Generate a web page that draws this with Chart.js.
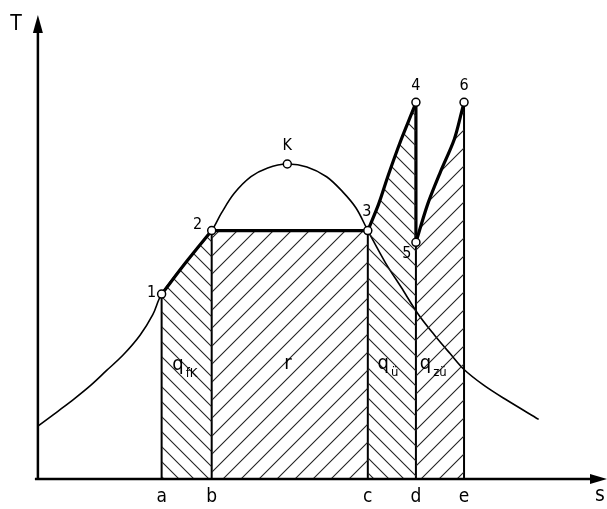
<!DOCTYPE html>
<html>
<head>
<meta charset="utf-8">
<script src="https://cdn.jsdelivr.net/npm/chart.js@4.4.1/dist/chart.umd.min.js"></script>
<style>
  html, body { margin: 0; padding: 0; background: #fff; }
  canvas { display: block; }
</style>
</head>
<body>
<canvas id="myChart" width="607" height="509"></canvas>
<script>
// saturation curve (boiling line - critical point - dew line)
var satS = [0, 2.0, 3.7, 5.4, 7.0, 8.7, 10.4, 11.7, 12.6, 15.2, 17.7, 18.7, 20.0, 21.7, 23.4, 25.4, 27.4, 29.4, 31.0, 32.4, 33.6, 35.4, 37.0, 38.7, 40.4, 42.0, 43.4, 45.4, 47.7, 51.0];
var satT = [5.4, 6.9, 8.2, 9.6, 11.1, 12.7, 14.7, 16.8, 18.9, 22.3, 25.4, 27.2, 29.2, 30.9, 31.8, 32.2, 31.9, 30.9, 29.4, 27.7, 25.4, 22.1, 19.6, 16.9, 14.7, 12.8, 11.2, 9.6, 8.1, 6.1];

// process 1-2 (liquid heating)
var heatS = [12.6, 15.2, 17.7];
var heatT = [18.9, 22.3, 25.4];
// process 2-3 (evaporation)
var evapS = [17.7, 33.6];
var evapT = [25.4, 25.4];
// process 3-4 (superheating)
var superS = [33.6, 34.7, 35.7, 37.0, 38.2, 38.5];
var superT = [25.4, 28.1, 31.1, 34.7, 37.7, 38.5];
// process 4-5 (expansion)
var expS = [38.5, 38.5];
var expT = [38.5, 24.2];
// process 5-6 (reheating)
var reheatS = [38.5, 39.7, 41.0, 42.4, 43.2, 43.4];
var reheatT = [24.2, 28.1, 31.4, 34.7, 37.7, 38.5];

// state points
var pointNames = ['1', '2', 'K', '3', '4', '5', '6'];
var pointS = [12.6, 17.7, 25.4, 33.6, 38.5, 38.5, 43.4];
var pointT = [18.9, 25.4, 32.2, 25.4, 38.5, 24.2, 38.5];

// s-axis marks
var tickLabels = ['a', 'b', 'c', 'd', 'e'];
var tickS = [12.6, 17.7, 33.6, 38.5, 43.4];
var tickTop = [18.9, 25.4, 25.4, 24.2, 38.5];

// area labels
var areaMain = ['q', 'r', 'q', 'q'];
var areaSub = ['fK', '', 'ü', 'zü'];
var areaS = [14.2, 25.6, 35.1, 39.4];
var areaT = [11.6, 11.7, 11.7, 11.7];

function pts(xs, ys) {
    return xs.map(function(x, i) { return { x: x, y: ys[i] }; });
}

function hatch(size, dir) {
    var c = document.createElement('canvas');
    c.width = size; c.height = size;
    var g = c.getContext('2d');
    g.strokeStyle = '#222';
    g.lineWidth = 1.1;
    g.beginPath();
    if (dir === '/') {
        g.moveTo(-1, size + 1); g.lineTo(size + 1, -1);
        g.moveTo(-2, 2); g.lineTo(2, -2);
        g.moveTo(size - 2, size + 2); g.lineTo(size + 2, size - 2);
    } else {
        g.moveTo(-1, -1); g.lineTo(size + 1, size + 1);
        g.moveTo(size - 2, -2); g.lineTo(size + 2, 2);
        g.moveTo(-2, size - 2); g.lineTo(2, size + 2);
    }
    g.stroke();
    return g.createPattern(c, 'repeat');
}

var fwd = hatch(18, '/');
var back = hatch(15, '\\');
var FONT = '"Liberation Sans Narrow", "DejaVu Sans Condensed", sans-serif';

function heavy(xs, ys, fill, pattern) {
    return {
        data: pts(xs, ys),
        borderColor: '#000',
        borderWidth: 3.2,
        pointRadius: 0,
        tension: 0.3,
        fill: fill ? 'origin' : false,
        backgroundColor: pattern || 'transparent'
    };
}

var datasets = [];
datasets.push({
    data: pts(pointS, pointT),
    showLine: false,
    pointRadius: 4,
    pointBackgroundColor: '#fff',
    pointBorderColor: '#000',
    pointBorderWidth: 1.5
});
datasets.push(heavy(heatS, heatT, true, back));
datasets.push(heavy(evapS, evapT, true, fwd));
datasets.push(heavy(superS, superT, true, back));
datasets.push(heavy(expS, expT, false));
datasets.push(heavy(reheatS, reheatT, true, fwd));
datasets.push({
    data: pts(satS, satT),
    borderColor: '#000',
    borderWidth: 1.6,
    pointRadius: 0,
    tension: 0.35,
    fill: false
});
tickS.forEach(function(s, i) {
    datasets.push({
        data: [{ x: s, y: 0 }, { x: s, y: tickTop[i] }],
        borderColor: '#000',
        borderWidth: 2,
        pointRadius: 0,
        fill: false
    });
});

var canvas = document.getElementById('myChart');
new Chart(canvas, {
    type: 'line',
    data: { datasets: datasets },
    options: {
        responsive: false,
        animation: false,
        devicePixelRatio: 1,
        layout: { padding: 0 },
        scales: {
            x: { type: 'linear', min: -3.3, max: 57.4, display: false },
            y: { type: 'linear', min: -2.5, max: 48.4, display: false }
        },
        plugins: {
            legend: { display: false },
            tooltip: { enabled: false }
        }
    },
    plugins: [{
        id: 'axes',
        afterDraw: function(chart) {
            var ctx = chart.ctx,
                xs = chart.scales.x,
                ys = chart.scales.y;
            var x0 = xs.getPixelForValue(0),
                y0 = ys.getPixelForValue(0);

            ctx.save();
            ctx.strokeStyle = '#000';
            ctx.fillStyle = '#000';
            ctx.lineWidth = 2.5;
            ctx.beginPath();
            ctx.moveTo(x0 - 3, y0);
            ctx.lineTo(594, y0);
            ctx.moveTo(x0, y0);
            ctx.lineTo(x0, 30);
            ctx.stroke();
            // arrow heads
            ctx.beginPath();
            ctx.moveTo(x0, 15);
            ctx.lineTo(x0 - 5, 33);
            ctx.lineTo(x0 + 5, 33);
            ctx.closePath();
            ctx.fill();
            ctx.beginPath();
            ctx.moveTo(607, y0);
            ctx.lineTo(590, y0 - 5);
            ctx.lineTo(590, y0 + 5);
            ctx.closePath();
            ctx.fill();

            // axis names
            ctx.font = '21px ' + FONT;
            ctx.textAlign = 'center';
            ctx.textBaseline = 'middle';
            ctx.fillText('T', 16, 25);
            ctx.fillText('s', 600, 496);

            // s marks
            ctx.font = '19px ' + FONT;
            ctx.textBaseline = 'alphabetic';
            tickS.forEach(function(s, i) {
                ctx.fillText(tickLabels[i], xs.getPixelForValue(s), y0 + 23);
            });

            // state point names
            var off = { '1': [-10, -1], '2': [-14, -6], 'K': [0, -18], '3': [-1, -19], '4': [0, -17], '5': [-9, 12], '6': [0, -17] };
            ctx.font = '16px ' + FONT;
            ctx.textBaseline = 'middle';
            pointNames.forEach(function(n, i) {
                var o = off[n];
                ctx.fillText(n, xs.getPixelForValue(pointS[i]) + o[0], ys.getPixelForValue(pointT[i]) + o[1]);
            });

            // area labels
            areaMain.forEach(function(m, i) {
                var px = xs.getPixelForValue(areaS[i]),
                    py = ys.getPixelForValue(areaT[i]);
                ctx.font = '20px ' + FONT;
                ctx.textAlign = 'left';
                ctx.textBaseline = 'alphabetic';
                var w = ctx.measureText(m).width;
                ctx.fillText(m, px - 5, py + 4);
                if (areaSub[i]) {
                    ctx.font = '13px ' + FONT;
                    ctx.fillText(areaSub[i], px - 5 + w + 2, py + 11);
                }
            });
            ctx.restore();
        }
    }]
});
</script>
</body>
</html>
